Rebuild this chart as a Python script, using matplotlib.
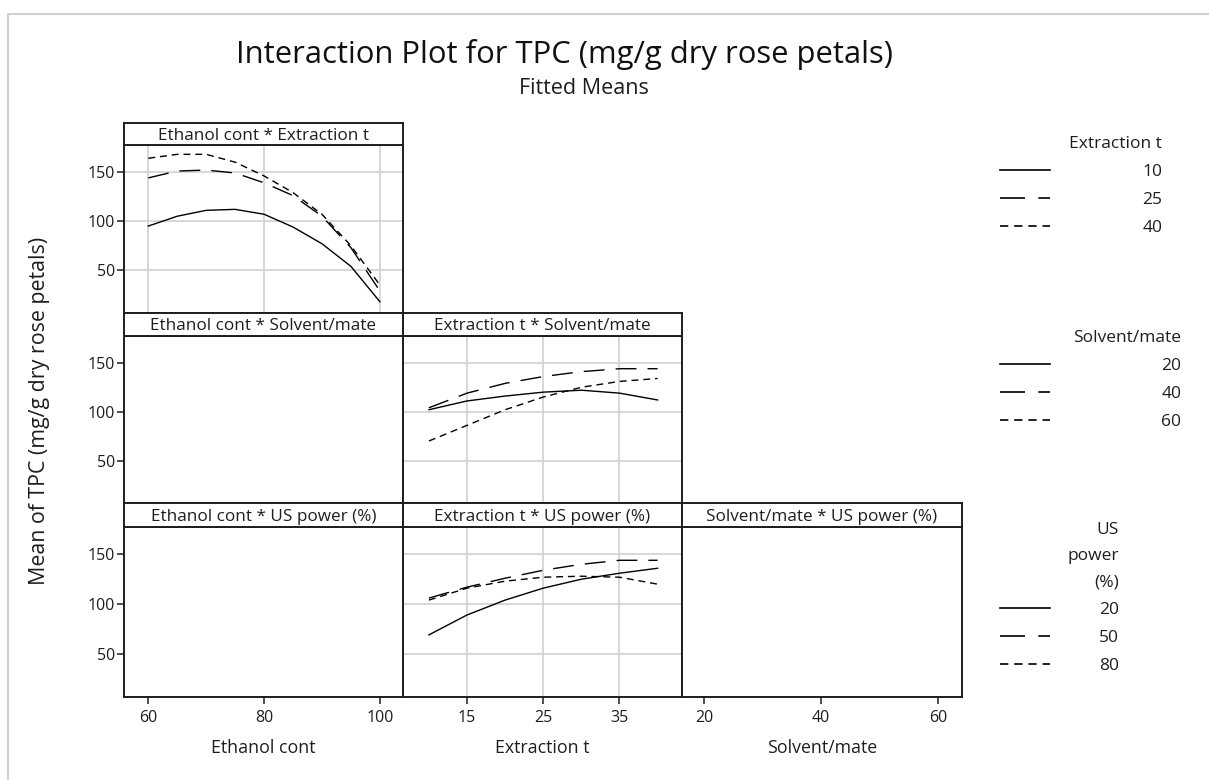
import matplotlib
matplotlib.use("Agg")
import matplotlib.pyplot as plt
from matplotlib.lines import Line2D

plt.rcParams['font.family'] = ['Open Sans', 'DejaVu Sans']

# data
ethanol = [60, 65, 70, 75, 80, 85, 90, 95, 100]
ext_t = [10, 15, 20, 25, 30, 35, 40]

eth_ext_levels = ['10', '25', '40']
eth_ext_10 = [95, 105, 111, 112, 107, 94, 77, 54, 18]
eth_ext_25 = [144, 151, 152, 149, 139, 126, 105, 73, 29]
eth_ext_40 = [164, 168, 168, 160, 146, 129, 107, 75, 35]

ext_solv_levels = ['20', '40', '60']
ext_solv_20 = [102, 111, 116, 120, 122, 119, 112]
ext_solv_40 = [104, 119, 129, 136, 141, 144, 144]
ext_solv_60 = [70, 86, 102, 115, 125, 131, 134]

ext_us_levels = ['20', '50', '80']
ext_us_20 = [69, 89, 104, 116, 125, 131, 136]
ext_us_50 = [106, 117, 126, 134, 140, 144, 144]
ext_us_80 = [104, 116, 123, 127, 128, 127, 120]

col_names = ['Ethanol cont', 'Extraction t', 'Solvent/mate']
col_ticks = [[60, 80, 100], [15, 25, 35], [20, 40, 60]]
col_lims = [(55.8, 104), (6.6, 43.2), (16.2, 64.1)]
y_ticks = [50, 100, 150]

styles = ['-', (0, (15, 8)), (0, (5, 3.5))]

W, H = 1209, 780
fig = plt.figure(figsize=(W / 100, H / 100), dpi=100)
ink = '#1e1e1e'


def box(x0, y0, x1, y1):
    return [x0 / W, 1 - y1 / H, (x1 - x0) / W, (y1 - y0) / H]


cols = [124, 403, 682, 962]
rows = [(123, 145, 313), (313, 336, 503), (503, 527, 697)]

panels = [
    (0, 0, 'Ethanol cont * Extraction t', ethanol, [eth_ext_10, eth_ext_25, eth_ext_40]),
    (1, 0, 'Ethanol cont * Solvent/mate', None, None),
    (1, 1, 'Extraction t * Solvent/mate', ext_t, [ext_solv_20, ext_solv_40, ext_solv_60]),
    (2, 0, 'Ethanol cont * US power (%)', None, None),
    (2, 1, 'Extraction t * US power (%)', ext_t, [ext_us_20, ext_us_50, ext_us_80]),
    (2, 2, 'Solvent/mate * US power (%)', None, None),
]

for r, c, title, x, series in panels:
    top, mid, bot = rows[r]
    ax = fig.add_axes(box(cols[c], mid, cols[c + 1], bot))
    hax = fig.add_axes(box(cols[c], top, cols[c + 1], mid))
    hax.set_xticks([])
    hax.set_yticks([])
    hax.text(0.5, 0.42, title, ha='center', va='center', fontsize=12.3, color=ink)
    for a in (ax, hax):
        for s in a.spines.values():
            s.set_color(ink)
            s.set_linewidth(1.4)
    ax.set_xlim(col_lims[c])
    ax.set_ylim(6.5, 177.5)
    ax.set_xticks(col_ticks[c])
    ax.set_yticks(y_ticks)
    ax.tick_params(length=5, width=1.1, color=ink, labelsize=11.5, pad=1.5,
                   labelcolor=ink)
    ax.tick_params(axis='x', pad=4.5)
    if c != 0:
        ax.tick_params(axis='y', left=False, labelleft=False)
    if r != 2:
        ax.tick_params(axis='x', bottom=False, labelbottom=False)
    if series is not None:
        ax.grid(True, color='#d4d4d4', lw=1.3)
        ax.set_axisbelow(True)
        for ys, ls in zip(series, styles):
            ax.plot(x, ys, color='black', lw=1.0, linestyle=ls)

for c, name in enumerate(col_names):
    fig.text((cols[c] + cols[c + 1]) / 2 / W, 1 - 748 / H, name, ha='center', va='center',
             fontsize=12.8, color=ink)

fig.text(40 / W, 1 - 411 / H, 'Mean of TPC (mg/g dry rose petals)', rotation=90,
         ha='center', va='center', fontsize=15.4, color=ink)

fig.text(565 / W, 1 - 54 / H, 'Interaction Plot for TPC (mg/g dry rose petals)',
         ha='center', va='center', fontsize=22.3, color='#111111')
fig.text(584 / W, 1 - 89 / H, 'Fitted Means', ha='center', va='center',
         fontsize=15.5, color=ink)

# legends
legends = [
    ('Extraction t', eth_ext_levels, 1000, 136, 5.3),
    ('Solvent/mate', ext_solv_levels, 1000, 330, 6.4),
    ('US\npower\n(%)', ext_us_levels, 1000, 522, 2.8),
]
for title, labels, lx, ly, pad in legends:
    handles = [Line2D([], [], color='black', lw=1.2, linestyle=ls) for ls in styles]
    leg = fig.legend(handles, labels, title=title, loc='upper left',
                     bbox_to_anchor=(lx / W, 1 - ly / H), frameon=False,
                     alignment='right', handlelength=2.9, handletextpad=pad,
                     labelspacing=0.68, borderpad=0, borderaxespad=0,
                     fontsize=12.5, title_fontsize=12.5, labelcolor=ink)
    leg.get_title().set_multialignment('right')
    leg.get_title().set_linespacing(1.85)
    leg.get_title().set_color(ink)

# light frame of the graph window
fig.add_artist(Line2D([8 / W, 8 / W, 1], [0, 1 - 14 / H, 1 - 14 / H],
                      color='#d0d0d0', lw=1.5, transform=fig.transFigure))

fig.savefig('out.png', dpi=100)
